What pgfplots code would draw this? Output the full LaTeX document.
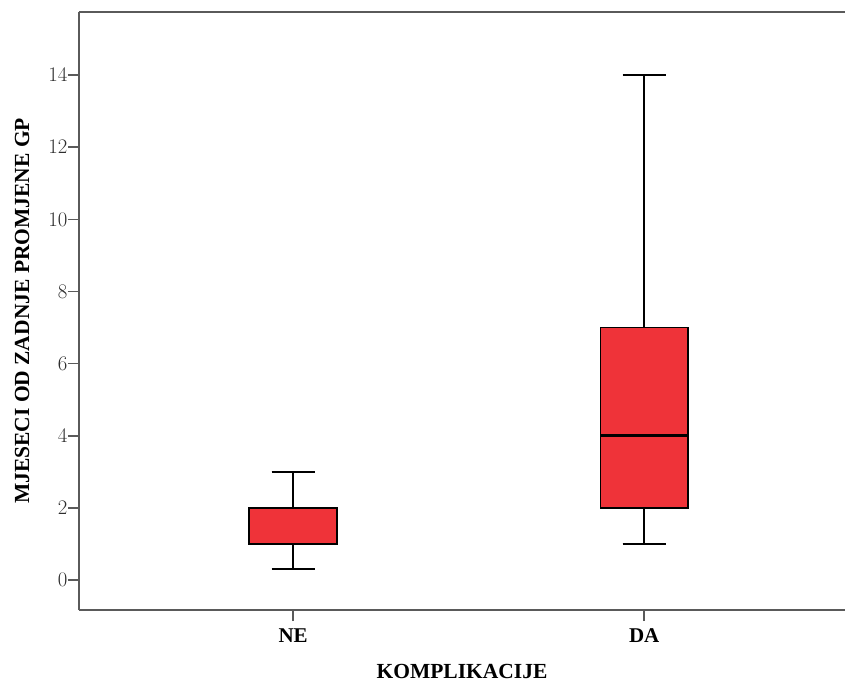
\documentclass[border=0pt]{standalone}
\usepackage{fontspec}
\setmainfont{Liberation Serif}
\usepackage{pgfplots}
\pgfplotsset{compat=1.18}
\usepgfplotslibrary{statistics}
\definecolor{boxred}{RGB}{239,51,57}
\definecolor{framegray}{RGB}{90,90,90}
\definecolor{ticktext}{RGB}{45,45,45}
\begin{document}
\begin{tikzpicture}
\useasboundingbox (-79pt,-72pt) rectangle (766pt,610pt);
\begin{axis}[
    scale only axis,
    width=766pt, height=598pt,
    xmin=0.39, xmax=2.572,
    ymin=-0.83, ymax=15.75,
    clip=false,
    axis lines=left,
    axis line style={-, draw=framegray, line width=1.6pt},
    xtick={1,2},
    xticklabels={\textbf{NE},\textbf{DA}},
    ytick={0,2,...,14},
    tick align=outside,
    major tick length=11pt,
    tick style={draw=framegray, line width=1.6pt},
    y tick label style={font=\fontsize{20}{20}\selectfont, text=ticktext, xshift=3pt},
    x tick label style={font=\fontsize{21}{21}\selectfont, text=black, yshift=-4pt},
    every axis y label/.style={at={(rel axis cs:0,0.5)}, xshift=-57pt,
        rotate=90, anchor=center, font=\fontsize{21.5}{21.5}\selectfont},
    every axis x label/.style={at={(rel axis cs:0.5,0)}, yshift=-61pt,
        anchor=center, font=\fontsize{21.5}{21.5}\selectfont},
    ylabel={\textbf{MJESECI OD ZADNJE PROMJENE GP}},
    xlabel={\textbf{KOMPLIKACIJE}},
    boxplot/draw direction=y,
    boxplot/every median/.style={line width=2.8pt},
]
% NE
\addplot[boxplot prepared={lower whisker=0.3, lower quartile=1, median=1,
    upper quartile=2, upper whisker=3, draw position=1,
    box extend=0.25, whisker extend=0.123},
    fill=boxred, draw=black, line width=1.6pt] coordinates {};
% DA
\addplot[boxplot prepared={lower whisker=1, lower quartile=2, median=4,
    upper quartile=7, upper whisker=14, draw position=2,
    box extend=0.25, whisker extend=0.123},
    fill=boxred, draw=black, line width=1.6pt] coordinates {};
\draw[framegray, line width=1.6pt] (rel axis cs:0,1) -- (rel axis cs:1,1);
\end{axis}
\end{tikzpicture}
\end{document}
